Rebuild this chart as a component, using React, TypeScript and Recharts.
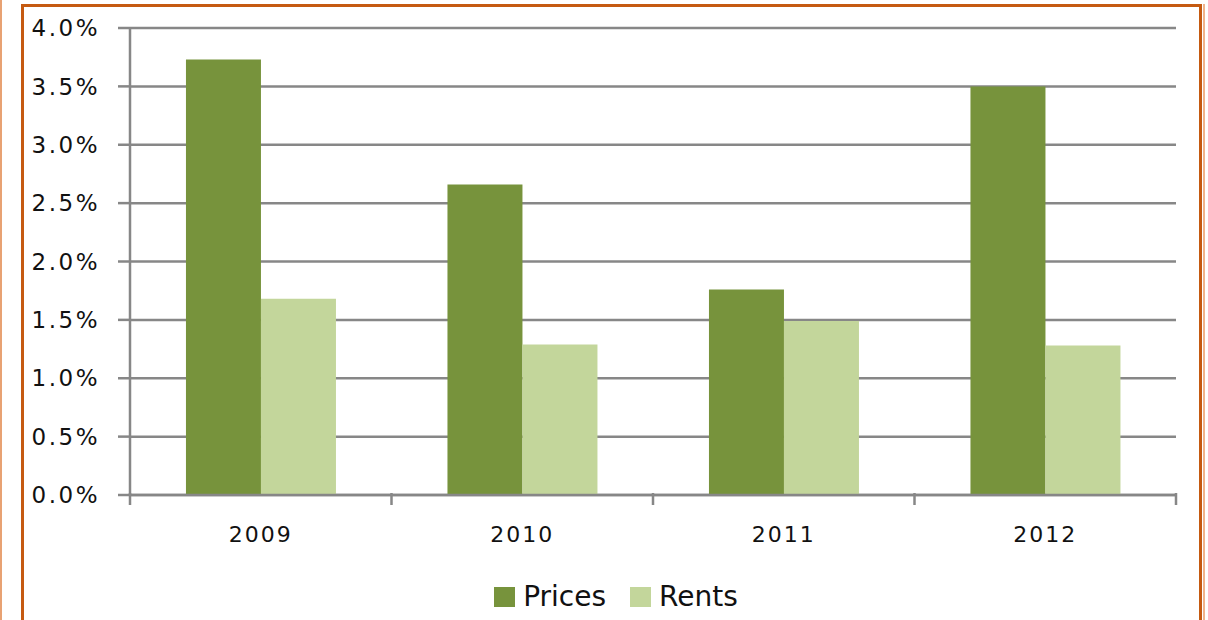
import { BarChart, Bar, XAxis, YAxis, CartesianGrid, Legend } from "recharts";

const years = ["2009", "2010", "2011", "2012"];
const prices = [3.73, 2.66, 1.76, 3.5];
const rents = [1.68, 1.29, 1.49, 1.28];
const yTicks = [0, 0.5, 1, 1.5, 2, 2.5, 3, 3.5, 4];

const data = years.map((year, i) => ({ year, prices: prices[i], rents: rents[i] }));

const GRID = "#878787";
const FONT = "'DejaVu Sans', sans-serif";

function YearTick(props: any) {
  const { x, y, payload, index } = props;
  const half = payload.offset || 0;
  const last = index === years.length - 1;
  return (
    <g>
      <line x1={x - half} y1={y - 10} x2={x - half} y2={y + 2} stroke={GRID} strokeWidth={2.5} />
      {last && (
        <line x1={x + half} y1={y - 10} x2={x + half} y2={y + 2} stroke={GRID} strokeWidth={2.5} />
      )}
      <text x={x} y={y + 39} textAnchor="middle" fontFamily={FONT} fontSize={22} letterSpacing={2} fill="#111">
        {payload.value}
      </text>
    </g>
  );
}

function LegendBox(props: any) {
  const items = props.payload || [];
  return (
    <div style={{ display: "flex", justifyContent: "center", gap: 24, fontFamily: FONT, fontSize: 28, color: "#111", paddingLeft: 24 }}>
      {items.map((it: any) => (
        <div key={it.value} style={{ display: "flex", alignItems: "center" }}>
          <span style={{ width: 21, height: 20, background: it.color, display: "inline-block", marginRight: 8 }} />
          <span>{it.value}</span>
        </div>
      ))}
    </div>
  );
}

export default function App() {
  return (
    <div style={{ position: "fixed", left: 0, top: 0, width: 1208, height: 620, background: "#fff", overflow: "hidden" }}>
      {/* frame */}
      <div style={{ position: "absolute", left: 0, top: 0, width: 2, height: 620, background: "#E8A273" }} />
      <div style={{ position: "absolute", left: 21, top: 4, width: 1181, height: 640, borderLeft: "3px solid #C55A11", borderTop: "3px solid #C55A11", borderRight: "3px solid #C55A11", boxSizing: "border-box" }} />
      <div style={{ position: "absolute", left: 1203, top: 4, width: 2, height: 620, background: "#F0B48C" }} />
      <div style={{ position: "absolute", left: 0, top: 0 }}>
        <BarChart
          width={1208}
          height={620}
          data={data}
          margin={{ top: 28, right: 32, left: 0, bottom: 75 }}
          barCategoryGap="21.4%"
          barGap={0}
        >
          <CartesianGrid vertical={false} stroke={GRID} strokeWidth={2.5} />
          <XAxis
            dataKey="year"
            height={50}
            axisLine={{ stroke: GRID, strokeWidth: 2.5 }}
            tickLine={false}
            tick={<YearTick />}
            interval={0}
          />
          <YAxis
            width={130}
            domain={[0, 4]}
            ticks={yTicks}
            interval={0}
            tickFormatter={(v: number) => v.toFixed(1) + "%"}
            axisLine={{ stroke: GRID, strokeWidth: 2.5 }}
            tickLine={{ stroke: GRID, strokeWidth: 2.5 }}
            tickSize={12}
            tickMargin={18}
            tick={{ fontFamily: FONT, fontSize: 23, fill: "#111", letterSpacing: 2.5 }}
          />
          <Legend verticalAlign="middle" align="center" wrapperStyle={{ top: 580, left: 0, width: 1208 }} content={<LegendBox />} />
          <Bar dataKey="prices" name="Prices" fill="#77933C" isAnimationActive={false} />
          <Bar dataKey="rents" name="Rents" fill="#C3D69B" isAnimationActive={false} />
        </BarChart>
      </div>
    </div>
  );
}
